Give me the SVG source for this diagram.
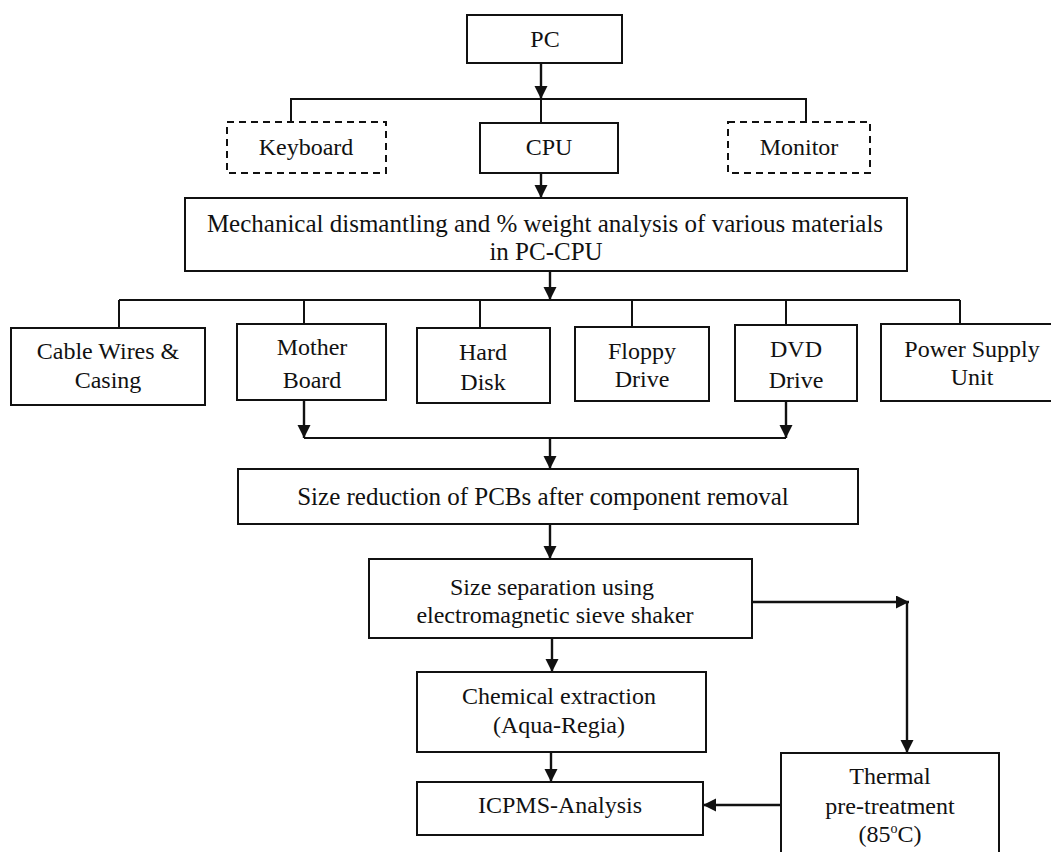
<svg xmlns="http://www.w3.org/2000/svg" width="1051" height="852" viewBox="0 0 1051 852">
<style>
.box{fill:#fff;stroke:#111;stroke-width:2}
.dash{fill:#fff;stroke:#111;stroke-width:2;stroke-dasharray:7,5}
.t{font-family:"Liberation Serif","Times New Roman",serif;font-size:24px;fill:#111;text-anchor:middle}
.big{font-size:25px}
.c{fill:none;stroke:#111;stroke-width:2}
.a{fill:none;stroke:#111;stroke-width:2.4;marker-end:url(#ah)}
</style>
<defs>
<marker id="ah" markerUnits="userSpaceOnUse" markerWidth="14" markerHeight="14" refX="13" refY="6.5" orient="auto">
<path d="M0,0 L13,6.5 L0,13 z" fill="#111"/>
</marker>
</defs>
<rect width="1051" height="852" fill="#fff"/>
<g id="connectors">
<line class="a" x1="541" y1="63" x2="541" y2="99"/>
<polyline class="c" points="291,122 291,99 806,99 806,122"/>
<line class="c" x1="541" y1="99" x2="541" y2="123"/>
<line class="a" x1="541" y1="173" x2="541" y2="198"/>
<line class="a" x1="550" y1="271" x2="550" y2="300"/>
<line class="c" x1="119" y1="300" x2="960" y2="300"/>
<line class="c" x1="119" y1="300" x2="119" y2="328"/>
<line class="c" x1="304" y1="300" x2="304" y2="324"/>
<line class="c" x1="480" y1="300" x2="480" y2="328"/>
<line class="c" x1="632" y1="300" x2="632" y2="327"/>
<line class="c" x1="786" y1="300" x2="786" y2="325"/>
<line class="c" x1="960" y1="300" x2="960" y2="324"/>
<line class="a" x1="304" y1="400" x2="304" y2="438"/>
<line class="a" x1="786" y1="401" x2="786" y2="438"/>
<line class="c" x1="304" y1="438" x2="786" y2="438"/>
<line class="a" x1="550" y1="438" x2="550" y2="469"/>
<line class="a" x1="550" y1="524" x2="550" y2="559"/>
<line class="a" x1="752" y1="602" x2="909" y2="602"/>
<line class="a" x1="907" y1="602" x2="907" y2="753"/>
<line class="a" x1="552" y1="638" x2="552" y2="672"/>
<line class="a" x1="551" y1="752" x2="551" y2="782"/>
<line class="a" x1="781" y1="805" x2="703" y2="805"/>
</g>
<g id="pc"><rect class="box" x="467" y="15" width="155" height="48"/><text class="t" x="545" y="47">PC</text></g>
<g id="keyboard"><rect class="dash" x="227" y="122" width="159" height="51"/><text class="t" x="306" y="155">Keyboard</text></g>
<g id="cpu"><rect class="box" x="480" y="123" width="138" height="50"/><text class="t" x="549" y="155">CPU</text></g>
<g id="monitor"><rect class="dash" x="728" y="122" width="142" height="51"/><text class="t" x="799" y="155">Monitor</text></g>
<g id="mech"><rect class="box" x="185" y="198" width="722" height="73"/><text class="t big" x="545" y="232">Mechanical dismantling and % weight analysis of various materials</text><text class="t big" x="546" y="260">in PC-CPU</text></g>
<g id="cable"><rect class="box" x="11" y="328" width="194" height="77"/><text class="t" x="108" y="359">Cable Wires &amp;</text><text class="t" x="108" y="388">Casing</text></g>
<g id="mother"><rect class="box" x="237" y="324" width="149" height="76"/><text class="t" x="312" y="355">Mother</text><text class="t" x="312" y="388">Board</text></g>
<g id="hard"><rect class="box" x="417" y="328" width="133" height="75"/><text class="t" x="483" y="360">Hard</text><text class="t" x="483" y="390">Disk</text></g>
<g id="floppy"><rect class="box" x="575" y="327" width="134" height="74"/><text class="t" x="642" y="359">Floppy</text><text class="t" x="642" y="387">Drive</text></g>
<g id="dvd"><rect class="box" x="735" y="325" width="122" height="76"/><text class="t" x="796" y="357">DVD</text><text class="t" x="796" y="388">Drive</text></g>
<g id="psu"><rect class="box" x="881" y="324" width="190" height="77"/><text class="t" x="972" y="357">Power Supply</text><text class="t" x="972" y="385">Unit</text></g>
<g id="sizered"><rect class="box" x="238" y="469" width="620" height="55"/><text class="t big" x="543" y="505">Size reduction of PCBs after component removal</text></g>
<g id="sizesep"><rect class="box" x="369" y="559" width="383" height="79"/><text class="t" x="552" y="595">Size separation using</text><text class="t" x="555" y="623">electromagnetic sieve shaker</text></g>
<g id="chem"><rect class="box" x="417" y="672" width="289" height="80"/><text class="t" x="559" y="704">Chemical extraction</text><text class="t" x="559" y="733">(Aqua-Regia)</text></g>
<g id="icpms"><rect class="box" x="417" y="782" width="286" height="53"/><text class="t" x="560" y="813">ICPMS-Analysis</text></g>
<g id="thermal"><rect class="box" x="781" y="753" width="218" height="120"/><text class="t" x="890" y="784">Thermal</text><text class="t" x="890" y="814">pre-treatment</text><text class="t" x="890" y="842">(85<tspan font-size="14" dy="-9">o</tspan><tspan dy="9">C)</tspan></text></g>
</svg>
